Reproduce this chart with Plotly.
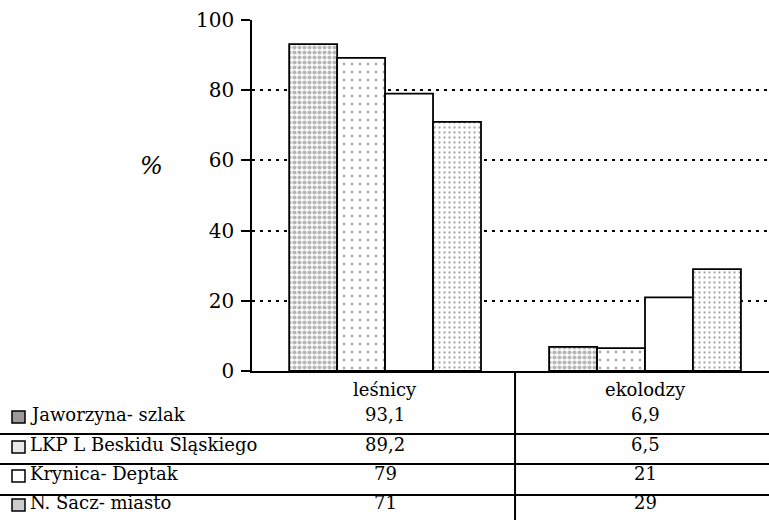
import plotly.graph_objects as go

categories = ["leśnicy", "ekolodzy"]
series_names = ["Jaworzyna- szlak", "LKP L Beskidu Śląskiego", "Krynica- Deptak", "N. Sacz- miasto"]
jaworzyna = [93.1, 6.9]
lkp = [89.2, 6.5]
krynica = [79, 21]
nsacz = [71, 29]
value_labels = [["93,1", "6,9"], ["89,2", "6,5"], ["79", "21"], ["71", "29"]]
y_ticks = [0, 20, 40, 60, 80, 100]

series_values = [jaworzyna, lkp, krynica, nsacz]
patterns = [
    dict(shape=".", fgcolor="#707070", bgcolor="white", size=5, solidity=0.55),
    dict(shape=".", fgcolor="#606060", bgcolor="white", size=8, solidity=0.1),
    dict(shape="", bgcolor="white"),
    dict(shape=".", fgcolor="#505050", bgcolor="white", size=5, solidity=0.16),
]
swatch_fill = ["#9a9a9a", "#e8e8e8", "white", "#cccccc"]

FONT = "DejaVu Serif"
L, T, B = 252, 20, 371
W, H = 769, 520
PW = W - L
PH = B - T

def py(pix):
    return (B - pix) / PH

def px(pix):
    return (pix - L) / PW

fig = go.Figure()
for name, vals, pat in zip(series_names, series_values, patterns):
    fig.add_trace(go.Bar(
        x=categories, y=vals, name=name,
        marker=dict(color="white", line=dict(color="black", width=1.8), pattern=pat),
        showlegend=False, hoverinfo="skip",
    ))

tfont = dict(family=FONT, size=18, color="black")
for c in categories:
    fig.add_annotation(x=c, y=py(389), xref="x", yref="paper", text=c,
                       xanchor="center", yanchor="middle", showarrow=False, font=tfont)
row_y = [414, 444, 473, 502]
for i, (name, labs) in enumerate(zip(series_names, value_labels)):
    yy = py(row_y[i])
    fig.add_annotation(x=px(28), y=yy, xref="paper", yref="paper", text=name,
                       xanchor="left", yanchor="middle", showarrow=False, font=tfont)
    for c, lab in zip(categories, labs):
        fig.add_annotation(x=c, y=yy, xref="x", yref="paper", text=lab,
                           xanchor="center", yanchor="middle", showarrow=False, font=tfont)
    fig.add_shape(type="rect", xref="paper", yref="paper",
                  x0=px(12), x1=px(25), y0=py(row_y[i] + 9), y1=py(row_y[i] - 3),
                  line=dict(color="black", width=1.5), fillcolor=swatch_fill[i])

for ly in [434, 464, 495]:
    fig.add_shape(type="line", xref="paper", yref="paper", x0=px(0), x1=1,
                  y0=py(ly), y1=py(ly), line=dict(color="black", width=2))
fig.add_shape(type="line", xref="x", yref="paper", x0=0.5, x1=0.5,
              y0=0, y1=py(520), line=dict(color="black", width=2))

fig.add_annotation(x=px(151), y=py(166), xref="paper", yref="paper", text="<i>%</i>",
                   xanchor="center", yanchor="middle", showarrow=False,
                   font=dict(family=FONT, size=24, color="black"))

fig.update_layout(
    width=W, height=H,
    margin=dict(l=L, r=0, t=T, b=H - B, pad=0),
    plot_bgcolor="white", paper_bgcolor="white",
    font=dict(family=FONT, color="black"),
    barmode="group", bargap=0.262, bargroupgap=0,
    xaxis=dict(range=[-0.512, 1.477], showticklabels=False, ticks="",
               showline=True, linecolor="black", linewidth=2, showgrid=False, zeroline=False),
    yaxis=dict(range=[0, 100], tickvals=y_ticks, ticks="outside", ticklen=9, tickwidth=1.5,
               tickcolor="black", showline=True, linecolor="black", linewidth=1.5,
               showgrid=True, gridcolor="black", gridwidth=1.5, griddash="3px,5px",
               zeroline=False, ticklabelstandoff=3,
               tickfont=dict(family=FONT, size=20, color="black")),
)

fig.write_html("out.html", config={"displayModeBar": False},
               post_script="document.body.style.margin='0';document.body.style.overflow='hidden';")
